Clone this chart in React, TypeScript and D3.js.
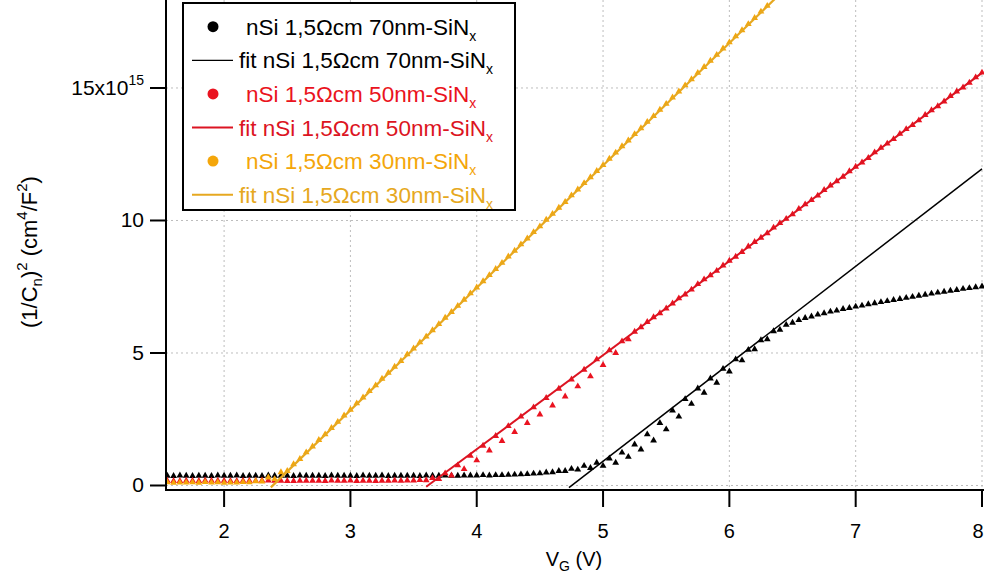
import React from 'react';
import * as d3 from 'd3';

// gate voltage sweeps (two interleaved sweeps per sample)
const vA = [1.55, 1.65, 1.75, 1.85, 1.95, 2.05, 2.15, 2.25, 2.35, 2.45, 2.55, 2.65, 2.75, 2.85, 2.95, 3.05, 3.15, 3.25, 3.35, 3.45, 3.55, 3.65, 3.75, 3.85, 3.95, 4.05, 4.15, 4.25, 4.35, 4.45, 4.55, 4.65, 4.75, 4.85, 4.95, 5.05, 5.15, 5.25, 5.35, 5.45, 5.55, 5.65, 5.75, 5.85, 5.95, 6.05, 6.15, 6.25, 6.35, 6.45, 6.55, 6.65, 6.75, 6.85, 6.95, 7.05, 7.15, 7.25, 7.35, 7.45, 7.55, 7.65, 7.75, 7.85, 7.95];
const vB = [1.6, 1.7, 1.8, 1.9, 2.0, 2.1, 2.2, 2.3, 2.4, 2.5, 2.6, 2.7, 2.8, 2.9, 3.0, 3.1, 3.2, 3.3, 3.4, 3.5, 3.6, 3.7, 3.8, 3.9, 4.0, 4.1, 4.2, 4.3, 4.4, 4.5, 4.6, 4.7, 4.8, 4.9, 5.0, 5.1, 5.2, 5.3, 5.4, 5.5, 5.6, 5.7, 5.8, 5.9, 6.0, 6.1, 6.2, 6.3, 6.4, 6.5, 6.6, 6.7, 6.8, 6.9, 7.0, 7.1, 7.2, 7.3, 7.4, 7.5, 7.6, 7.7, 7.8, 7.9, 8.0];

// (1/Cn)^2 in units of 1e15 cm^4/F^2
const black70A = [0.37, 0.38, 0.36, 0.37, 0.38, 0.37, 0.36, 0.37, 0.38, 0.37, 0.36, 0.37, 0.37, 0.38, 0.37, 0.36, 0.37, 0.38, 0.37, 0.37, 0.36, 0.37, 0.38, 0.37, 0.38, 0.39,
  0.39, 0.40, 0.42, 0.45, 0.49, 0.55, 0.63, 0.74, 0.86,
  1.02, 1.24, 1.55, 1.93, 2.36, 2.83, 3.26, 3.66, 4.04, 4.4,
  4.76, 5.12, 5.48, 5.82, 6.06, 6.24, 6.38, 6.5, 6.6, 6.7,
  6.79, 6.88, 6.96, 7.04, 7.12, 7.2, 7.28, 7.35, 7.42, 7.48];
const black70B = [0.36, 0.37, 0.37, 0.36, 0.37, 0.38, 0.37, 0.36, 0.37, 0.37, 0.38, 0.37, 0.36, 0.37, 0.37, 0.38, 0.37, 0.36, 0.37, 0.37, 0.38, 0.37, 0.37, 0.38, 0.38,
  0.38, 0.39, 0.41, 0.43, 0.46, 0.5, 0.55, 0.6, 0.66, 0.74,
  0.86, 1.08, 1.36, 1.7, 2.12, 2.6, 3.08, 3.5, 3.88, 4.3,
  4.72, 5.14, 5.52, 5.88, 6.14, 6.32, 6.45, 6.56, 6.66, 6.75,
  6.84, 6.92, 7.0, 7.08, 7.16, 7.24, 7.31, 7.38, 7.45, 7.51];
const red50A = [0.18, 0.17, 0.18, 0.19, 0.18, 0.17, 0.18, 0.18, 0.19, 0.18, 0.17, 0.18, 0.18, 0.19, 0.18, 0.17, 0.18, 0.18, 0.19, 0.19,
  0.21, 0.28, 0.46, 0.76, 1.12, 1.5, 1.87, 2.24, 2.6, 2.95,
  3.3, 3.65, 4.0, 4.37, 4.76, 5.1, 5.44, 5.8, 6.17, 6.5,
  6.87, 7.21, 7.6, 7.93, 8.3, 8.63, 9.02, 9.35, 9.73, 10.06,
  10.44, 10.77, 11.15, 11.48, 11.86, 12.19, 12.57, 12.9, 13.27, 13.6,
  13.98, 14.31, 14.7, 15.02, 15.4];
const red50B = [0.17, 0.18, 0.17, 0.18, 0.18, 0.17, 0.18, 0.19, 0.18, 0.17, 0.18, 0.18, 0.17, 0.18, 0.19, 0.18, 0.17, 0.18, 0.18, 0.19,
  0.2, 0.24, 0.38, 0.62, 0.95, 1.32, 1.68, 2.02, 2.36, 2.68,
  3.02, 3.36, 3.74, 4.12, 4.55, 5.0, 5.52, 5.97, 6.35, 6.68,
  7.06, 7.39, 7.78, 8.1, 8.48, 8.81, 9.19, 9.52, 9.9, 10.23,
  10.61, 10.94, 11.32, 11.65, 12.03, 12.36, 12.74, 13.07, 13.45, 13.78,
  14.16, 14.49, 14.87, 15.2, 15.58];
const yellow30A = [0.12, 0.11, 0.12, 0.13, 0.12, 0.11, 0.13, 0.16,
  0.3, 0.5, 0.8, 1.25, 1.72, 2.17, 2.64, 3.1, 3.56, 4.03,
  4.48, 4.95, 5.4, 5.86, 6.33, 6.78, 7.25, 7.71, 8.17, 8.64,
  9.1, 9.56, 10.03, 10.48, 10.95, 11.41, 11.87, 12.33, 12.8, 13.26,
  13.72, 14.18, 14.64, 15.1, 15.57, 16.03, 16.49, 16.95, 17.41, 17.88];
const yellow30B = [0.1, 0.11, 0.1, 0.11, 0.1, 0.11, 0.12, 0.15,
  0.24, 0.55, 1.0, 1.47, 1.93, 2.4, 2.86, 3.32, 3.78, 4.25,
  4.7, 5.17, 5.62, 6.09, 6.55, 7.01, 7.47, 7.94, 8.4, 8.86,
  9.32, 9.78, 10.25, 10.7, 11.17, 11.63, 12.09, 12.56, 13.02, 13.48,
  13.94, 14.4, 14.87, 15.33, 15.79, 16.25, 16.72, 17.18, 17.64, 18.1];

// linear fit end points [V, value]
const fitBlackV = [4.73, 8.0];
const fitBlackY = [-0.08, 11.95];
const fitRedV = [3.6, 8.0];
const fitRedY = [-0.05, 15.57];
const fitYellowV = [2.37, 6.36];
const fitYellowY = [-0.07, 18.36];

const xTicks = [2, 3, 4, 5, 6, 7, 8];
const yTicks = [0, 5, 10, 15];

const BLACK = '#000000';
const RED = '#ea1320';
const RED_FIT = '#dc1422';
const YELLOW = '#f4a60a';
const YELLOW_FIT = '#e6a820';

const W = 984;
const H = 576;
const PL = 166, PR = 982, PT = 0, PB = 490;
const FONT = '"Liberation Sans", Arial, sans-serif';

type Pt = [number, number];
const zip = (xs: number[], ys: number[]): Pt[] => ys.map((y, i) => [xs[i], y] as Pt);

const series = [
  { pts: [...zip(vA, black70A), ...zip(vB, black70B)], color: BLACK, fitV: fitBlackV, fitY: fitBlackY, fitColor: BLACK, fitW: 1.5 },
  { pts: [...zip(vA, red50A), ...zip(vB, red50B)], color: RED, fitV: fitRedV, fitY: fitRedY, fitColor: RED_FIT, fitW: 2 },
  { pts: [...zip(vA, yellow30A), ...zip(vB, yellow30B)], color: YELLOW, fitV: fitYellowV, fitY: fitYellowY, fitColor: YELLOW_FIT, fitW: 2.2 },
];

const legendRows = [
  { kind: 'dot', color: BLACK, label: 'nSi 1,5\u03A9cm 70nm-SiN' },
  { kind: 'line', color: BLACK, label: 'fit nSi 1,5\u03A9cm 70nm-SiN' },
  { kind: 'dot', color: RED, label: 'nSi 1,5\u03A9cm 50nm-SiN' },
  { kind: 'line', color: RED_FIT, label: 'fit nSi 1,5\u03A9cm 50nm-SiN' },
  { kind: 'dot', color: YELLOW, label: 'nSi 1,5\u03A9cm 30nm-SiN' },
  { kind: 'line', color: YELLOW_FIT, label: 'fit nSi 1,5\u03A9cm 30nm-SiN' },
];

const marker = d3.symbol().type(d3.symbolTriangle).size(20)() || '';

export default function App() {
  const x = d3.scaleLinear().domain([1.54, 8.0]).range([PL, PR]);
  const y = d3.scaleLinear().domain([-0.17, 18.32]).range([PB, PT]);
  const line = d3.line<Pt>().x(d => x(d[0])).y(d => y(d[1]));

  return (
    <svg width={W} height={H} style={{ position: 'absolute', left: 0, top: 0, background: '#fff' }} fontFamily={FONT}>
      <defs>
        <clipPath id="plot">
          <rect x={PL} y={PT} width={W - PL} height={PB - PT} />
        </clipPath>
      </defs>
      <rect width={W} height={H} fill="#fff" />

      {/* grid */}
      <g stroke="#bdbdbd" strokeWidth={1} strokeDasharray="2,3">
        {xTicks.map(t => <line key={'gx' + t} x1={x(t)} x2={x(t)} y1={PT} y2={PB} />)}
        {yTicks.map(t => <line key={'gy' + t} x1={PL} x2={W} y1={y(t)} y2={y(t)} />)}
      </g>

      {/* data + fits */}
      <g clipPath="url(#plot)">
        {series.map((s, si) => (
          <g key={si}>
            {s.pts.map((p, i) => (
              <path key={i} d={marker} transform={`translate(${x(p[0])},${y(p[1])})`} fill={s.color} />
            ))}
            <path d={line(zip(s.fitV, s.fitY)) || ''} fill="none" stroke={s.fitColor} strokeWidth={s.fitW} />
          </g>
        ))}
      </g>

      {/* axes */}
      <g stroke="#000" strokeWidth={2}>
        <line x1={PL} x2={PL} y1={PT} y2={PB + 1} />
        <line x1={PL - 1} x2={W} y1={PB} y2={PB} />
        {yTicks.map(t => <line key={'ty' + t} x1={PL - 16} x2={PL} y1={y(t)} y2={y(t)} />)}
        {xTicks.map(t => <line key={'tx' + t} x1={x(t)} x2={x(t)} y1={PB} y2={PB + 17} />)}
      </g>
      <g fontSize={20} fill="#000">
        {xTicks.map(t => (
          <text key={'lx' + t} x={t === 8 ? x(t) - 4 : x(t)} y={PB + 48} textAnchor="middle">{t}</text>
        ))}
      </g>
      <g fontSize={21} fill="#000">
        {yTicks.map(t => (
          <text key={'ly' + t} x={PL - 22} y={y(t) + 7} textAnchor="end">
            {t === 15 ? <>15x10<tspan dy={-10} fontSize={14}>15</tspan></> : t}
          </text>
        ))}
      </g>

      {/* axis titles */}
      <text x={(PL + PR) / 2} y={566} textAnchor="middle" fontSize={20}>
        V<tspan dy={5} fontSize={14}>G</tspan><tspan dy={-5}> (V)</tspan>
      </text>
      <text transform="translate(37,252) rotate(-90)" textAnchor="middle" fontSize={22}>
        (1/C<tspan dy={5} fontSize={15}>n</tspan><tspan dy={-5}>)</tspan><tspan dy={-10} fontSize={15}>2</tspan>
        <tspan dy={10}> (cm</tspan><tspan dy={-10} fontSize={15}>4</tspan><tspan dy={10}>/F</tspan>
        <tspan dy={-10} fontSize={15}>2</tspan><tspan dy={10}>)</tspan>
      </text>

      {/* legend */}
      <g>
        <rect x={183} y={3} width={332} height={207} fill="#fff" stroke="#000" strokeWidth={2} />
        {legendRows.map((r, i) => {
          const cy = 26.7 + i * 33.6;
          return (
            <g key={i}>
              {r.kind === 'dot'
                ? <circle cx={213} cy={cy} r={5.5} fill={r.color} />
                : <line x1={192} x2={233} y1={cy} y2={cy} stroke={r.color} strokeWidth={r.color === BLACK ? 1.3 : 2} />}
              <text x={r.kind === 'dot' ? 246 : 239} y={cy + 8} fontSize={22.5} fill={r.color}>
                {r.label}<tspan dy={6} fontSize={14}>x</tspan>
              </text>
            </g>
          );
        })}
      </g>
    </svg>
  );
}
